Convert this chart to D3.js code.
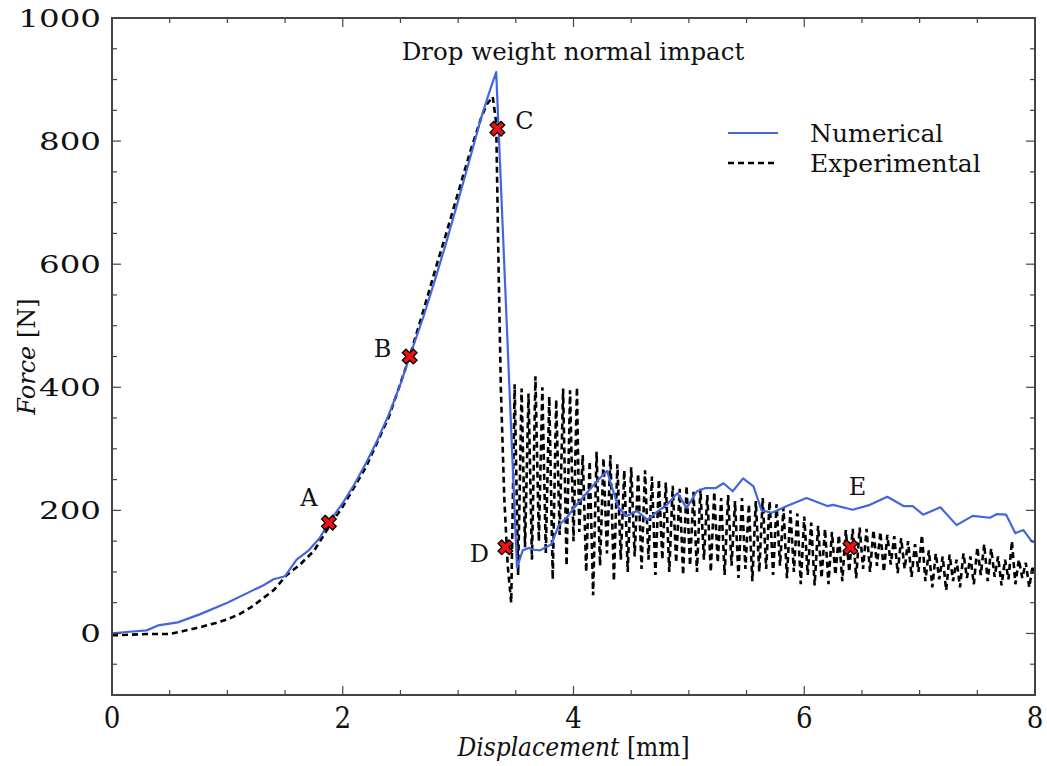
<!DOCTYPE html>
<html>
<head>
<meta charset="utf-8">
<script src="https://cdn.jsdelivr.net/npm/d3@7"></script>
<style>
  body { margin: 0; background: #fff; }
  text { font-family: "DejaVu Serif", serif; fill: #111; }
  .cond { font-family: "DejaVu Serif Condensed", "DejaVu Serif", serif; font-stretch: condensed; }
</style>
</head>
<body>
<svg id="chart" width="1047" height="766"></svg>
<script>
// Numerical curve [displacement mm, force N]
const numerical = [
  [0, 0], [0.1, 2], [0.3, 5], [0.4, 13], [0.57, 18], [0.76, 31], [1.0, 50], [1.22, 70],
  [1.31, 78], [1.4, 88], [1.5, 93], [1.6, 120], [1.7, 134], [1.8, 155], [1.88, 180],
  [2.0, 212], [2.1, 242], [2.2, 276], [2.3, 314], [2.4, 356], [2.5, 405], [2.58, 450],
  [2.7, 515], [2.8, 575], [2.9, 637], [3.0, 703], [3.1, 770], [3.2, 838], [3.28, 885], [3.33, 912],
  [3.51, 107], [3.56, 135], [3.61, 139], [3.66, 136], [3.71, 135], [3.76, 140], [3.81, 145],
  [3.87, 175], [3.94, 188], [4.0, 203], [4.1, 225], [4.2, 247], [4.29, 264], [4.39, 204],
  [4.46, 191], [4.55, 199], [4.64, 185], [4.72, 197], [4.81, 209], [4.9, 228], [4.98, 204],
  [5.07, 231], [5.14, 236], [5.23, 236], [5.3, 244], [5.38, 231], [5.47, 252], [5.56, 239],
  [5.63, 200], [5.72, 196], [5.85, 207], [6.02, 220], [6.2, 207], [6.25, 209], [6.42, 201],
  [6.57, 209], [6.72, 222], [6.86, 207], [6.94, 207], [7.03, 193], [7.18, 205], [7.32, 176],
  [7.46, 191], [7.61, 188], [7.67, 194], [7.75, 193], [7.83, 163], [7.9, 168], [7.97, 150], [8.0, 148]
];

// Experimental curve [displacement mm, force N]
const experimental = [
  [0, -3], [0.15, -2], [0.3, -1], [0.5, -1], [0.62, 4], [0.76, 10], [0.9, 17], [1.0, 23],
  [1.1, 31], [1.2, 42], [1.28, 53], [1.4, 70], [1.51, 94], [1.63, 112], [1.75, 134], [1.89, 176],
  [2.0, 206], [2.2, 270], [2.4, 352], [2.58, 450], [2.7, 525], [2.8, 590], [2.9, 652], [3.0, 716],
  [3.1, 780], [3.2, 838], [3.25, 860], [3.3, 872], [3.33, 830], [3.35, 600], [3.37, 400],
  [3.4, 220], [3.43, 110], [3.46, 50],
  [3.49, 405], [3.52, 95], [3.55, 398], [3.58, 140], [3.61, 390], [3.64, 120], [3.67, 418],
  [3.7, 150], [3.73, 400], [3.76, 130], [3.79, 385], [3.82, 88], [3.85, 380], [3.88, 160],
  [3.91, 398], [3.94, 110], [3.97, 395], [4.0, 150], [4.03, 400], [4.05, 165],
  [4.08, 290], [4.11, 100], [4.14, 280], [4.17, 62], [4.2, 295], [4.23, 110], [4.26, 285],
  [4.29, 130], [4.32, 290], [4.35, 85], [4.38, 275], [4.41, 120], [4.44, 265], [4.47, 100],
  [4.5, 270], [4.53, 125], [4.56, 260], [4.59, 105], [4.62, 265], [4.65, 120],
  [4.68, 255], [4.71, 95], [4.74, 250], [4.77, 120], [4.8, 245], [4.83, 100], [4.86, 240],
  [4.89, 115], [4.92, 235], [4.95, 95], [4.98, 240], [5.01, 110], [5.04, 230], [5.07, 100],
  [5.1, 235], [5.13, 120], [5.16, 225], [5.19, 100], [5.22, 230], [5.25, 115], [5.28, 220],
  [5.31, 95], [5.34, 225], [5.37, 110], [5.4, 215], [5.43, 90], [5.46, 220], [5.49, 105],
  [5.52, 210], [5.55, 85], [5.58, 215], [5.61, 100],
  [5.64, 220], [5.67, 105], [5.7, 215], [5.73, 95], [5.76, 210], [5.79, 110], [5.82, 205],
  [5.85, 90], [5.88, 200], [5.91, 100], [5.94, 195], [5.97, 80], [6.0, 190], [6.03, 95],
  [6.06, 180], [6.09, 78], [6.12, 175], [6.15, 90], [6.18, 170], [6.21, 80], [6.24, 165],
  [6.27, 95], [6.3, 160], [6.33, 85], [6.36, 168], [6.39, 100], [6.42, 170], [6.45, 90],
  [6.48, 172], [6.51, 105], [6.54, 170], [6.57, 100], [6.6, 168], [6.63, 110], [6.66, 165],
  [6.69, 100], [6.72, 160], [6.75, 112], [6.78, 158], [6.81, 98], [6.84, 155], [6.87, 105],
  [6.9, 150], [6.93, 92], [6.96, 145], [6.99, 100], [7.02, 160], [7.05, 85], [7.08, 135],
  [7.11, 75], [7.14, 130], [7.17, 88], [7.2, 125], [7.23, 70], [7.26, 128], [7.29, 85],
  [7.32, 120], [7.35, 75], [7.38, 130], [7.41, 90], [7.44, 125], [7.47, 80], [7.5, 140],
  [7.53, 95], [7.56, 145], [7.59, 85], [7.62, 138], [7.65, 92], [7.68, 125], [7.71, 78],
  [7.74, 120], [7.77, 88], [7.8, 150], [7.83, 80], [7.86, 120], [7.89, 90], [7.92, 115],
  [7.95, 75], [7.98, 110], [8.0, 90]
];

// Marked points A-E
const markers = [
  { label: "A", x: 1.88, y: 180 },
  { label: "B", x: 2.58, y: 450 },
  { label: "C", x: 3.34, y: 820 },
  { label: "D", x: 3.41, y: 140 },
  { label: "E", x: 6.4, y: 140 }
];

const xTicks = [0, 2, 4, 6, 8];
const yTicks = [0, 200, 400, 600, 800, 1000];

const svg = d3.select("#chart");
const mLeft = 112, mRight = 1035, mTop = 18, mBottom = 695;

const x = d3.scaleLinear().domain([0, 8]).range([mLeft, mRight]);
const y = d3.scaleLinear().domain([-100, 1000]).range([mBottom, mTop]);

// clip for the data
svg.append("clipPath").attr("id", "clip")
  .append("rect").attr("x", mLeft).attr("y", mTop).attr("width", mRight - mLeft).attr("height", mBottom - mTop);

const line = d3.line().x(d => x(d[0])).y(d => y(d[1]));

const plot = svg.append("g").attr("clip-path", "url(#clip)");

plot.append("path")
  .datum(experimental)
  .attr("d", line)
  .attr("fill", "none")
  .attr("stroke", "#000")
  .attr("stroke-width", 2.6)
  .attr("stroke-dasharray", "6,4");

plot.append("path")
  .datum(numerical)
  .attr("d", line)
  .attr("fill", "none")
  .attr("stroke", "#4466dd")
  .attr("stroke-width", 2.2)
  .attr("stroke-linejoin", "round");

// ticks inward on all four sides
const axisG = svg.append("g").attr("stroke", "#444");
const xMinor = d3.range(0, 8.001, 0.5);
const yMinor = d3.range(-100, 1000.1, 50);
xMinor.forEach(v => {
  const len = (v % 2 === 0) ? 9 : 5;
  axisG.append("line").attr("x1", x(v)).attr("x2", x(v)).attr("y1", mBottom).attr("y2", mBottom - len).attr("stroke-width", 1.2);
  axisG.append("line").attr("x1", x(v)).attr("x2", x(v)).attr("y1", mTop).attr("y2", mTop + len).attr("stroke-width", 1.2);
});
yMinor.forEach(v => {
  const len = (v % 200 === 0) ? 9 : 5;
  axisG.append("line").attr("y1", y(v)).attr("y2", y(v)).attr("x1", mLeft).attr("x2", mLeft + len).attr("stroke-width", 1.2);
  axisG.append("line").attr("y1", y(v)).attr("y2", y(v)).attr("x1", mRight).attr("x2", mRight - len).attr("stroke-width", 1.2);
});

svg.append("rect")
  .attr("x", mLeft).attr("y", mTop).attr("width", mRight - mLeft).attr("height", mBottom - mTop)
  .attr("fill", "none").attr("stroke", "#444").attr("stroke-width", 2);

// tick labels (y labels are drawn wide, as in the original)
svg.selectAll(".ylab").data(yTicks).enter().append("text")
  .attr("transform", d => `translate(${mLeft - 11},${y(d)}) scale(1.3,1)`)
  .attr("dy", "0.36em")
  .attr("text-anchor", "end").attr("font-size", 25)
  .text(d => d);

svg.selectAll(".xlab").data(xTicks).enter().append("text")
  .attr("class", "cond")
  .attr("x", d => x(d)).attr("y", 728)
  .attr("text-anchor", "middle").attr("font-size", 29)
  .text(d => d);

// axis titles
const xt = svg.append("text").attr("class", "cond")
  .attr("x", (mLeft + mRight) / 2).attr("y", 756)
  .attr("text-anchor", "middle").attr("font-size", 26);
xt.append("tspan").attr("font-style", "italic").text("Displacement");
xt.append("tspan").text(" [mm]");

const yt = svg.append("text")
  .attr("transform", `translate(35,${(mTop + mBottom) / 2}) rotate(-90)`)
  .attr("text-anchor", "middle").attr("font-size", 24);
yt.append("tspan").attr("font-style", "italic").text("Force");
yt.append("tspan").text(" [N]");

// title
svg.append("text")
  .attr("x", 573).attr("y", 60)
  .attr("text-anchor", "middle").attr("font-size", 24.5)
  .text("Drop weight normal impact");

// markers
const cross = d3.symbol().type(d3.symbolCross).size(135);
svg.selectAll(".mk").data(markers).enter().append("path")
  .attr("d", cross)
  .attr("transform", d => `translate(${x(d.x)},${y(d.y)}) rotate(45)`)
  .attr("fill", "#ee1111").attr("stroke", "#000").attr("stroke-width", 1.3);

const labelOffsets = { A: [-20, -25], B: [-27, -8], C: [27, -8], D: [-26, 6], E: [7, -61] };
svg.selectAll(".mklab").data(markers).enter().append("text")
  .attr("x", d => x(d.x) + labelOffsets[d.label][0])
  .attr("y", d => y(d.y) + labelOffsets[d.label][1])
  .attr("dy", "0.36em")
  .attr("text-anchor", "middle").attr("font-size", 24)
  .text(d => d.label);

// legend
const legend = svg.append("g");
legend.append("line").attr("x1", 728).attr("x2", 778).attr("y1", 133).attr("y2", 133)
  .attr("stroke", "#4466dd").attr("stroke-width", 2.2);
legend.append("text").attr("x", 810).attr("y", 142).attr("font-size", 25).text("Numerical");
legend.append("line").attr("x1", 728).attr("x2", 778).attr("y1", 163).attr("y2", 163)
  .attr("stroke", "#000").attr("stroke-width", 2.6).attr("stroke-dasharray", "6,4");
legend.append("text").attr("x", 810).attr("y", 172).attr("font-size", 25).text("Experimental");
</script>
</body>
</html>
